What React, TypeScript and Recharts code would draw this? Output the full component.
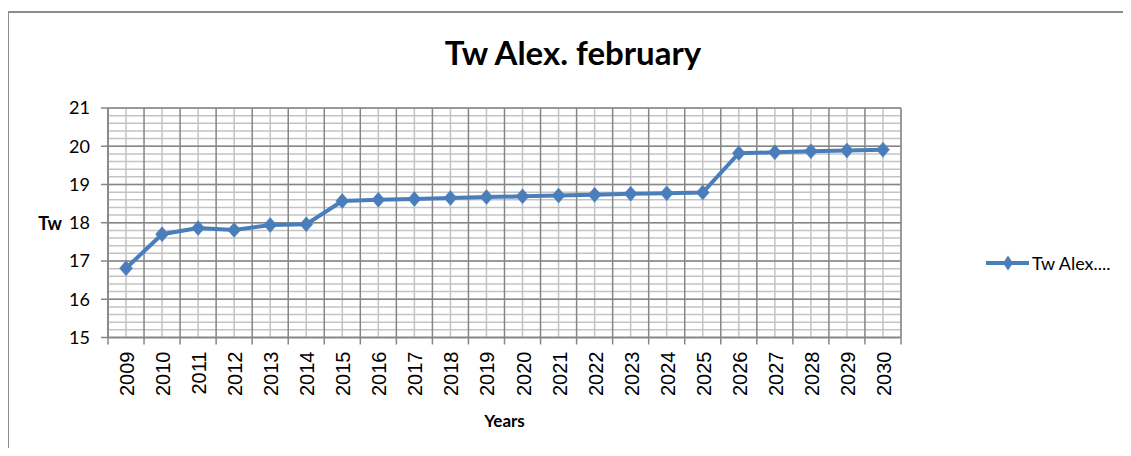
import React from 'react';
import { ComposedChart, Line, XAxis, YAxis, CartesianGrid, Legend } from 'recharts';

// Water temperature (Tw) for Alexandria in February, by year
const years = [
  '2009', '2010', '2011', '2012', '2013', '2014', '2015', '2016', '2017', '2018', '2019',
  '2020', '2021', '2022', '2023', '2024', '2025', '2026', '2027', '2028', '2029', '2030',
];
const twValues = [
  16.81, 17.7, 17.86, 17.81, 17.94, 17.96, 18.57, 18.6, 18.62, 18.65, 18.67,
  18.69, 18.71, 18.73, 18.76, 18.77, 18.79, 19.82, 19.84, 19.87, 19.89, 19.91,
];

const seriesName = 'Tw Alex....';
const chartTitle = 'Tw Alex. february';
const xTitle = 'Years';
const yTitle = 'Tw';

// Value axis range, major ticks and minor grid steps
const yDomain: [number, number] = [15, 21];
const yTicks = [15, 16, 17, 18, 19, 20, 21];
const yMinorTicks = [
  15, 15.2, 15.4, 15.6, 15.8, 16, 16.2, 16.4, 16.6, 16.8, 17, 17.2, 17.4, 17.6, 17.8, 18,
  18.2, 18.4, 18.6, 18.8, 19, 19.2, 19.4, 19.6, 19.8, 20, 20.2, 20.4, 20.6, 20.8, 21,
];

const data = years.map((year, i) => ({ year, tw: twValues[i] }));

const LINE_COLOR = '#4A7EBB';
const MAJOR = '#868686';
const MINOR = '#C3C3C3';
const FONT = 'Lato, "Open Sans", sans-serif';
const TICK_FONT = '"Liberation Sans", Arial, sans-serif';
const TICK_SIZE = 7;
const TICK_MARGIN = 7;

// Grid line positions derived from the plot area
const minorRows = ({ offset }: any) =>
  yMinorTicks.map((v) => offset.top + ((yDomain[1] - v) / (yDomain[1] - yDomain[0])) * offset.height);
const categoryBoundaries = ({ offset }: any) =>
  years.map((_, i) => offset.left + (i * offset.width) / years.length).concat(offset.left + offset.width);

const diamondPath = (cx: number, cy: number, hw: number, hh: number) =>
  `M${cx},${cy - hh}L${cx + hw},${cy}L${cx},${cy + hh}L${cx - hw},${cy}Z`;

const DiamondDot = (props: any) => {
  const { cx, cy, index } = props;
  if (cx == null || cy == null) return <g key={`dot-${index}`} />;
  return <path key={`dot-${index}`} d={diamondPath(cx, cy, 6.5, 7.5)} fill={LINE_COLOR} stroke={LINE_COLOR} strokeWidth={0.5} />;
};

// Year labels, rotated, with tick marks on the category boundaries
const YearTick = (props: any) => {
  const { x, y, payload, index, visibleTicksCount } = props;
  const half = payload && payload.offset ? payload.offset : 18;
  const top = y - TICK_SIZE - TICK_MARGIN;
  const last = index === (visibleTicksCount ?? years.length) - 1;
  return (
    <g>
      <line x1={x - half} x2={x - half} y1={top} y2={top + TICK_SIZE} stroke={MAJOR} strokeWidth={1.5} />
      {last && <line x1={x + half} x2={x + half} y1={top} y2={top + TICK_SIZE} stroke={MAJOR} strokeWidth={1.5} />}
      <text
        x={x + 1}
        y={y}
        transform={`rotate(-90 ${x + 1} ${y})`}
        textAnchor="end"
        dominantBaseline="central"
        fontFamily={TICK_FONT}
        fontSize={20}
        fill="#000"
      >
        {payload.value}
      </text>
    </g>
  );
};

const LegendContent = (props: any) => {
  const item = props.payload && props.payload[0];
  if (!item) return null;
  return (
    <svg width={150} height={30} style={{ display: 'block' }}>
      <line x1={0} x2={43} y1={12} y2={12} stroke={LINE_COLOR} strokeWidth={4} />
      <path d={diamondPath(22, 12, 5, 7.5)} fill={LINE_COLOR} />
      <text x={46} y={19} fontFamily={FONT} fontSize={18} fill="#000">
        {item.value}
      </text>
    </svg>
  );
};

export default function App() {
  return (
    <div style={{ position: 'relative', width: 1123, height: 448, marginBottom: -8 }}>
      <div
        style={{
          position: 'absolute',
          left: -1,
          top: 3,
          width: 1124,
          height: 445,
          borderLeft: '2px solid #8C8C8C',
          borderTop: '2px solid #8C8C8C',
          boxSizing: 'border-box',
        }}
      />
      <div style={{ position: 'absolute', left: 0, top: 0 }}>
        <ComposedChart
          width={1123}
          height={448}
          data={data}
          margin={{ top: 100, right: 230, bottom: 58.5, left: 20 }}
        >
          <CartesianGrid
            xAxisId="cat"
            yAxisId="main"
            horizontalCoordinatesGenerator={minorRows}
            stroke={MINOR}
            strokeWidth={1.5}
          />
          <CartesianGrid
            xAxisId="cat"
            yAxisId="main"
            verticalCoordinatesGenerator={categoryBoundaries}
            stroke={MAJOR}
            strokeWidth={1.5}
          />
          <XAxis
            xAxisId="cat"
            dataKey="year"
            scale="band"
            height={60}
            interval={0}
            tickLine={false}
            tickSize={TICK_SIZE}
            tickMargin={TICK_MARGIN}
            axisLine={{ stroke: MAJOR, strokeWidth: 1.5 }}
            tick={<YearTick />}
            label={{
              content: (p: any) => (
                <text
                  x={p.viewBox.x + p.viewBox.width / 2}
                  y={p.viewBox.y + 89.5}
                  textAnchor="middle"
                  fontFamily={FONT}
                  fontWeight="bold"
                  fontSize={17}
                  fill="#000"
                >
                  {xTitle}
                </text>
              ),
            }}
          />
          <YAxis
            yAxisId="main"
            width={80}
            domain={yDomain}
            ticks={yTicks}
            interval={0}
            tickSize={TICK_SIZE}
            tickMargin={11}
            tickLine={{ stroke: MAJOR, strokeWidth: 1.5 }}
            axisLine={{ stroke: MAJOR, strokeWidth: 1.5 }}
            tick={{ fontFamily: FONT, fontSize: 18, fill: '#000' }}
            label={{
              content: (p: any) => (
                <text
                  x={p.viewBox.x + 34}
                  y={p.viewBox.y + p.viewBox.height / 2 + 7.25}
                  textAnchor="end"
                  fontFamily={FONT}
                  fontWeight="bold"
                  fontSize={18}
                  fill="#000"
                >
                  {yTitle}
                </text>
              ),
            }}
          />
          <Legend
            layout="horizontal"
            align="center"
            verticalAlign="middle"
            content={<LegendContent />}
            wrapperStyle={{ left: 978, top: 243, width: 150, height: 30 }}
          />
          <Line
            xAxisId="cat"
            yAxisId="main"
            type="linear"
            dataKey="tw"
            name={seriesName}
            stroke={LINE_COLOR}
            strokeWidth={4}
            dot={DiamondDot}
            activeDot={false}
            isAnimationActive={false}
          />
          <text x={565} y={57} textAnchor="middle" fontFamily={FONT} fontWeight="bold" fontSize={33} fill="#000">
            {chartTitle}
          </text>
        </ComposedChart>
      </div>
    </div>
  );
}
